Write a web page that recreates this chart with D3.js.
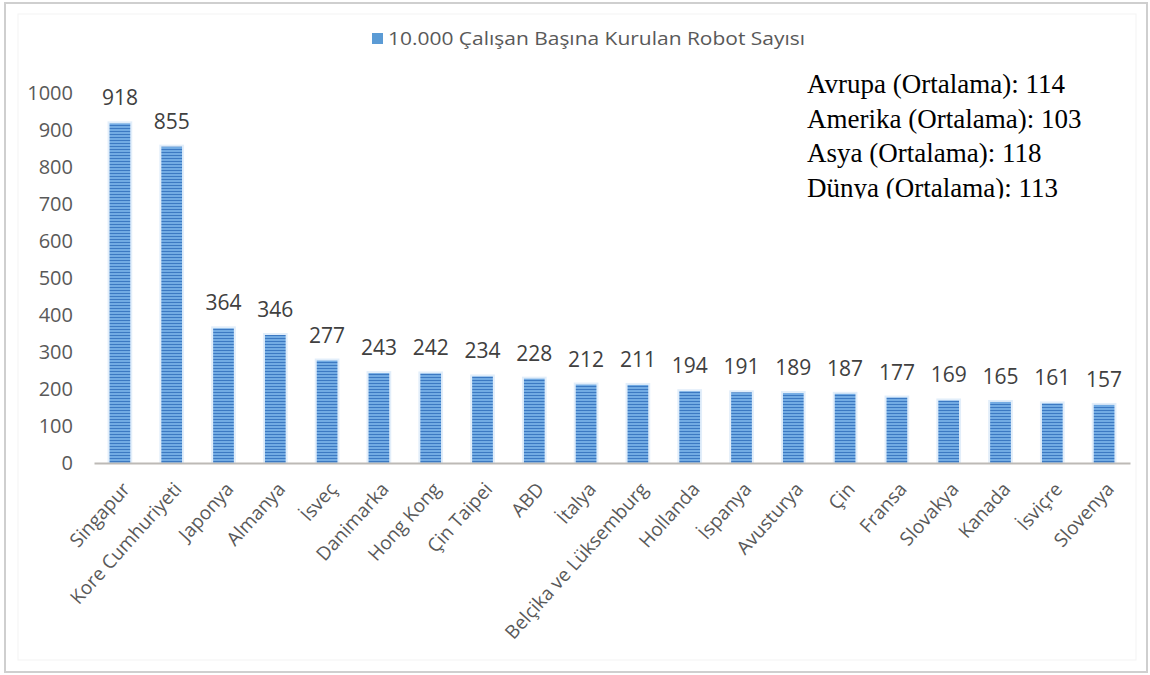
<!DOCTYPE html>
<html>
<head>
<meta charset="utf-8">
<script src="https://cdn.jsdelivr.net/npm/d3@7"></script>
<style>
  html, body { margin: 0; padding: 0; background: #ffffff; }
  svg { display: block; }
</style>
</head>
<body>
<script>
// Installed robots per 10,000 employees, by country
const categories = [
  "Singapur", "Kore Cumhuriyeti", "Japonya", "Almanya", "İsveç", "Danimarka",
  "Hong Kong", "Çin Taipei", "ABD", "İtalya", "Belçika ve Lüksemburg", "Hollanda",
  "İspanya", "Avusturya", "Çin", "Fransa", "Slovakya", "Kanada", "İsviçre", "Slovenya"
];
const robotsPer10k = [918, 855, 364, 346, 277, 243, 242, 234, 228, 212, 211, 194,
  191, 189, 187, 177, 169, 165, 161, 157];
const yTicks = [0, 100, 200, 300, 400, 500, 600, 700, 800, 900, 1000];
const seriesName = "10.000 Çalışan Başına Kurulan Robot Sayısı";
const regionalAverages = [
  "Avrupa (Ortalama): 114",
  "Amerika (Ortalama): 103",
  "Asya (Ortalama): 118",
  "Dünya (Ortalama): 113"
];

const W = 1150, H = 675;
const plot = { left: 94, right: 1130, top: 93, bottom: 463 };
const sans = "'Open Sans', 'Noto Sans', sans-serif";

const svg = d3.select("body").append("svg")
  .attr("width", W).attr("height", H);

// striped bar fill
const defs = svg.append("defs");
const pat = defs.append("pattern")
  .attr("id", "stripes").attr("patternUnits", "userSpaceOnUse")
  .attr("width", 8).attr("height", 3);
pat.append("rect").attr("width", 8).attr("height", 3).attr("fill", "#72abe3");
pat.append("rect").attr("y", 2).attr("width", 8).attr("height", 1).attr("fill", "#3c79c2");

defs.append("clipPath").attr("id", "noteClip")
  .append("rect").attr("x", 780).attr("y", 60).attr("width", 360).attr("height", 138.5);

// outer frame
svg.append("rect")
  .attr("x", 5).attr("y", 3).attr("width", 1142).attr("height", 669)
  .attr("fill", "#ffffff").attr("stroke", "#cfcfcf").attr("stroke-width", 2);
svg.append("rect")
  .attr("x", 18).attr("y", 14).attr("width", 1118).attr("height", 646)
  .attr("fill", "none").attr("stroke", "#f3f3f3").attr("stroke-width", 1);

const x = d3.scaleBand()
  .domain(categories)
  .range([plot.left, plot.right])
  .paddingInner(0.6).paddingOuter(0.3);

const y = d3.scaleLinear()
  .domain([0, 1000])
  .range([plot.bottom, plot.top]);

// y axis labels (no line, no ticks)
const yAxis = svg.append("g")
  .attr("transform", `translate(${plot.left - 21},0)`)
  .call(d3.axisLeft(y).tickValues(yTicks).tickSize(0).tickPadding(0).tickFormat(d3.format("d")));
yAxis.select(".domain").remove();
yAxis.selectAll("text")
  .attr("font-family", sans).attr("font-size", 20).attr("fill", "#595959");

// bars
const bars = svg.append("g");
bars.selectAll("rect.halo")
  .data(robotsPer10k)
  .join("rect").attr("class", "halo")
  .attr("x", (d, i) => x(categories[i]) - 2)
  .attr("y", d => y(d) - 2)
  .attr("width", x.bandwidth() + 4)
  .attr("height", d => plot.bottom - y(d) + 2)
  .attr("fill", "#e2eefa");
bars.selectAll("rect.bar")
  .data(robotsPer10k)
  .join("rect").attr("class", "bar")
  .attr("x", (d, i) => x(categories[i]))
  .attr("y", d => y(d))
  .attr("width", x.bandwidth())
  .attr("height", d => plot.bottom - y(d))
  .attr("fill", "url(#stripes)");

// value labels
svg.append("g").selectAll("text")
  .data(robotsPer10k)
  .join("text")
  .attr("x", (d, i) => x(categories[i]) + x.bandwidth() / 2)
  .attr("y", d => y(d) - 18)
  .attr("text-anchor", "middle")
  .attr("font-family", sans).attr("font-size", 21).attr("fill", "#404040")
  .text(d => d);

// x axis baseline and rotated category labels
const xAxis = svg.append("g")
  .attr("transform", `translate(0,${plot.bottom})`)
  .call(d3.axisBottom(x).tickSize(0).tickPadding(0));
xAxis.select(".domain").attr("stroke", "#bdbab6").attr("stroke-width", 2);
xAxis.selectAll(".tick text")
  .attr("font-family", sans).attr("font-size", 19).attr("fill", "#595959")
  .attr("text-anchor", "end")
  .attr("dy", "0")
  .attr("transform", "translate(11,27) rotate(-48)");

// legend
const legend = svg.append("g");
legend.append("rect")
  .attr("x", 372).attr("y", 33).attr("width", 11).attr("height", 11)
  .attr("fill", "#5b9bd5");
legend.append("text")
  .attr("x", 388).attr("y", 45)
  .attr("font-family", sans).attr("font-size", 18).attr("fill", "#595959")
  .attr("textLength", 417).attr("lengthAdjust", "spacingAndGlyphs")
  .text(seriesName);

// regional averages note, its last line cut by the box edge
svg.append("g").attr("clip-path", "url(#noteClip)")
  .selectAll("text")
  .data(regionalAverages)
  .join("text")
  .attr("x", 807)
  .attr("y", (d, i) => 93 + i * 34.6)
  .attr("font-family", "'Liberation Serif', 'Times New Roman', serif")
  .attr("font-size", 27).attr("fill", "#000000")
  .text(d => d);
</script>
</body>
</html>
